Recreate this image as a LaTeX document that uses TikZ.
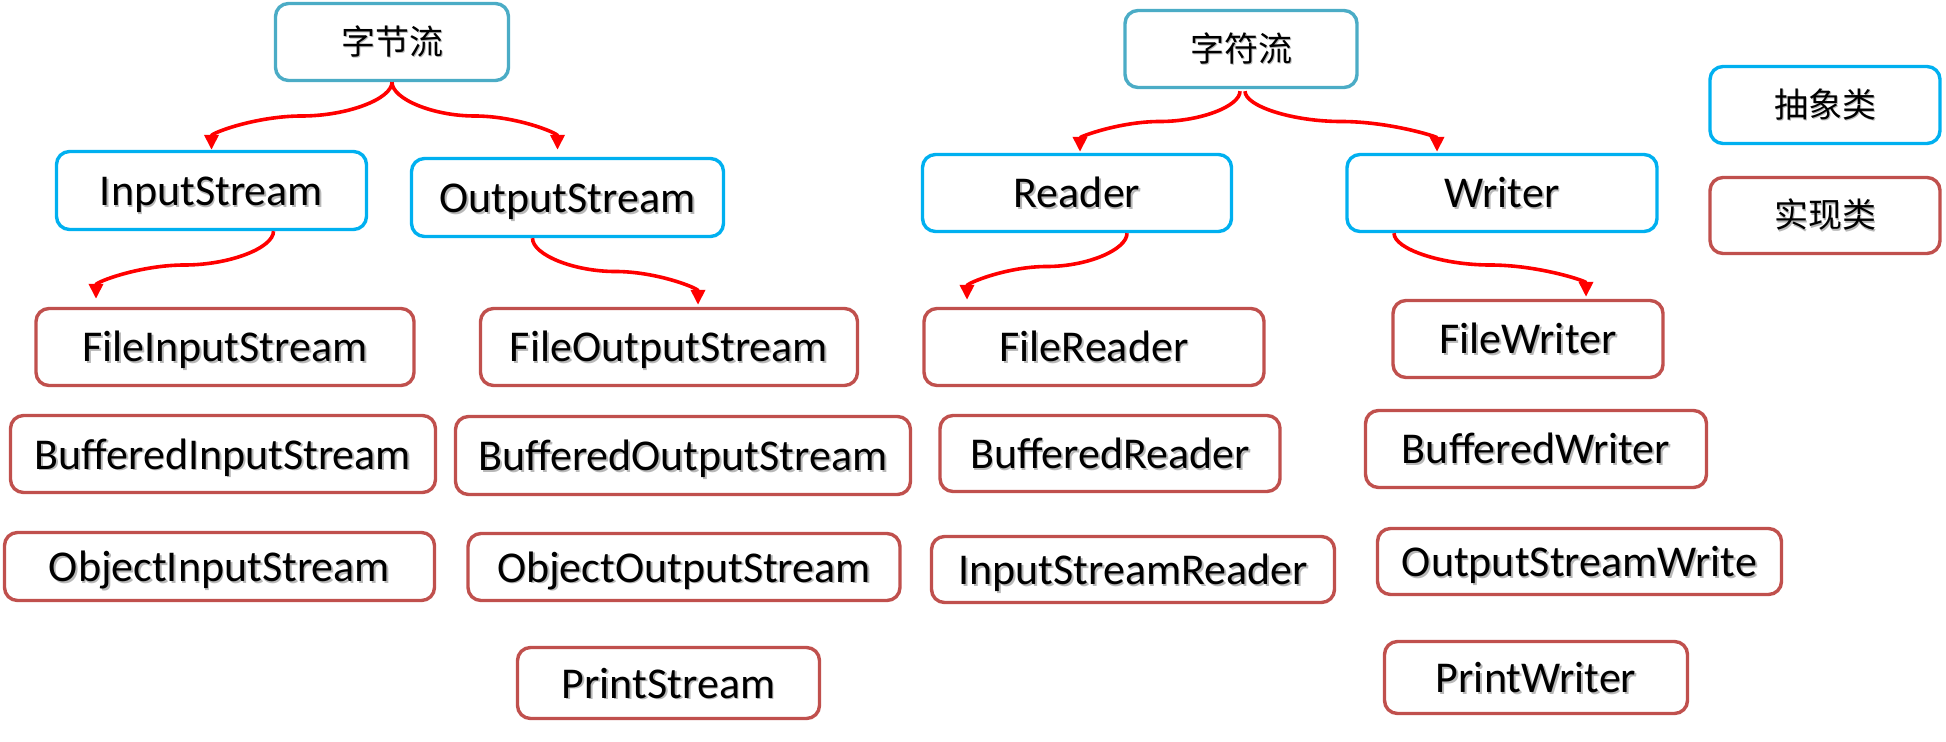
\documentclass[tikz,border=0pt]{standalone}
\usepackage{fontspec}
\setmainfont{Carlito}
\newfontfamily\cjkf{Noto Sans CJK SC}
\usetikzlibrary{arrows.meta,calc}
\definecolor{topc}{HTML}{4BACC6}
\definecolor{absc}{HTML}{00B0F0}
\definecolor{impc}{HTML}{C0504D}
\definecolor{arrc}{HTML}{FF0000}
\newcommand\shd[1]{\makebox[0pt][l]{\raisebox{-0.9pt}{\hspace{0.9pt}\textcolor{black!28}{#1}}}#1}
\newcommand\sconn[2]{\draw[conn] let \p1=(#1), \p2=(#2) in (\p1) .. controls (\x1,{0.75*\y1+0.25*\y2}) and ({0.75*\x1+0.25*\x2},{0.5*\y1+0.5*\y2}) .. ({0.5*\x1+0.5*\x2},{0.5*\y1+0.5*\y2}) .. controls ({0.25*\x1+0.75*\x2},{0.5*\y1+0.5*\y2}) and (\x2,{0.25*\y1+0.75*\y2}) .. (\p2);}
\begin{document}
\begin{tikzpicture}[x=0.5pt,y=0.5pt,
 bx/.style 2 args={draw, rounded corners=6.5pt, line width=1.7pt, inner sep=0pt, fill=white,
   minimum width=#1*0.5pt, minimum height=#2*0.5pt, font=\fontsize{22}{26}\selectfont,
   text height=15.5pt, text depth=0.5pt},
 cjk/.style={font=\cjkf\fontsize{17}{20}\selectfont, text height=, text depth=},
 topbox/.style 2 args={bx={#1}{#2}, draw=topc, cjk},
 absbox/.style 2 args={bx={#1}{#2}, draw=absc},
 impbox/.style 2 args={bx={#1}{#2}, draw=impc},
 conn/.style={draw=arrc, line width=1.8pt, -{Triangle[length=7.5pt,width=7pt]}}]
\useasboundingbox (0,0) rectangle (1946,-742);
\node[topbox={233}{77}] (zj) at (392,-42) {\shd{字节流}};
\node[topbox={232}{77}] (zf) at (1241,-49) {\shd{字符流}};
\node[absbox={230}{77}, cjk] (abs) at (1825,-105) {\shd{抽象类}};
\node[impbox={230}{76}, cjk] (imp) at (1825,-215.5) {\shd{实现类}};
\node[absbox={310}{78}] (in) at (211.5,-190.5) {\shd{InputStream}};
\node[absbox={312}{78}] (out) at (567.5,-197.5) {\shd{OutputStream}};
\node[absbox={309}{77}] (rd) at (1077,-193) {\shd{Reader}};
\node[absbox={310}{77}] (wr) at (1502,-193) {\shd{Writer}};
\node[impbox={378}{77}] (fis) at (225,-347) {\shd{FileInputStream}};
\node[impbox={377}{77}] (fos) at (669,-347) {\shd{FileOutputStream}};
\node[impbox={425}{77}] (bis) at (223,-454) {\shd{BufferedInputStream}};
\node[impbox={455}{78}] (bos) at (683,-455.5) {\shd{BufferedOutputStream}};
\node[impbox={430}{68}] (ois) at (219.5,-566.5) {\shd{ObjectInputStream}};
\node[impbox={432}{67}] (oos) at (684,-567) {\shd{ObjectOutputStream}};
\node[impbox={302}{71}] (ps) at (668.5,-683) {\shd{PrintStream}};
\node[impbox={340}{77}] (fr) at (1094,-347) {\shd{FileReader}};
\node[impbox={270}{77}] (fw) at (1528,-339) {\shd{FileWriter}};
\node[impbox={340}{76}] (br) at (1110,-453.5) {\shd{BufferedReader}};
\node[impbox={341}{77}] (bw) at (1536,-449) {\shd{BufferedWriter}};
\node[impbox={403}{66}] (isr) at (1133,-569.5) {\shd{InputStreamReader}};
\node[impbox={404}{66}] (osw) at (1579.5,-561.5) {\shd{OutputStreamWrite}};
\node[impbox={303}{72}] (pw) at (1536,-677.5) {\shd{PrintWriter}};
\sconn{zj.south}{in.north}
\sconn{zj.south}{$(out.north)+(-10,7)$}
\sconn{$(in.south)+(62,0)$}{$(fis.north)+(-129,8)$}
\sconn{$(out.south)+(-35,0)$}{$(fos.north)+(29,2)$}
\sconn{$(zf.south)+(-1,-2)$}{$(rd.north)+(3,1)$}
\sconn{$(zf.south)+(4,-2)$}{$(wr.north)+(-65,1)$}
\sconn{$(rd.south)+(50,0)$}{$(fr.north)+(-127,7)$}
\sconn{$(wr.south)+(-108,0)$}{$(fw.north)+(58,2)$}
\end{tikzpicture}
\end{document}
